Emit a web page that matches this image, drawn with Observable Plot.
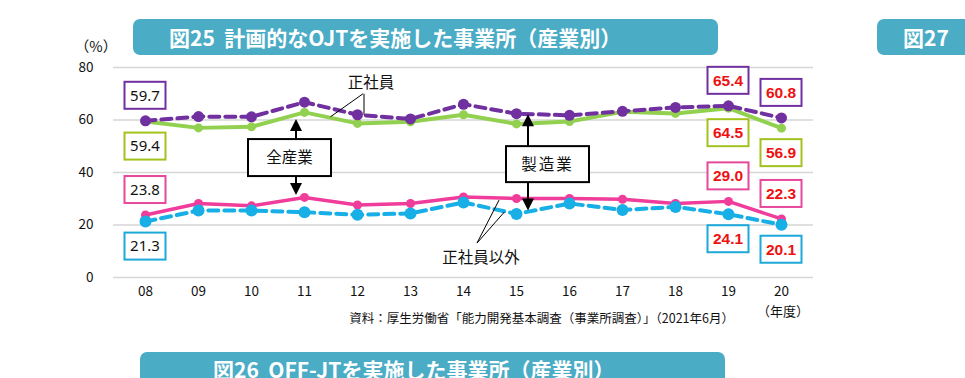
<!DOCTYPE html>
<html><head><meta charset="utf-8">
<script src="https://cdn.jsdelivr.net/npm/d3@7"></script>
<script src="https://cdn.jsdelivr.net/npm/@observablehq/plot@0.6"></script>
<style>
body{margin:0;background:#fff;font-family:"Noto Sans CJK JP","Noto Sans",sans-serif;}
#wrap{position:relative;width:965px;height:378px;overflow:hidden;}
#chart{position:absolute;left:0;top:0;}
.banner{position:absolute;background:#4bacc6;color:#fff;font-weight:bold;font-size:21px;border-radius:7px;height:36px;line-height:36px;white-space:pre;box-sizing:border-box;font-family:"Noto Sans CJK JP",sans-serif;}
</style></head><body>
<div id="wrap">
  <div id="chart"></div>
  <div class="banner" style="left:133px;top:19px;width:585px;padding-left:36px;">図25  計画的なOJTを実施した事業所（産業別）</div>
  <div class="banner" style="left:877px;top:19px;width:120px;padding-left:26px;">図27</div>
  <div class="banner" style="left:140px;top:352px;width:585px;padding-left:73px;line-height:34px;">図26  OFF-JTを実施した事業所（産業別）</div>
</div>
<script>
// ---- data ----
const years = ["08","09","10","11","12","13","14","15","16","17","18","19","20"];
const mfgRegular    = [59.7, 61.3, 61.2, 66.8, 62.0, 60.4, 66.0, 62.4, 61.8, 63.3, 64.8, 65.4, 60.8]; // 製造業 正社員
const allRegular    = [59.4, 57.0, 57.4, 62.9, 58.7, 59.3, 62.0, 58.5, 59.4, 63.1, 62.5, 64.5, 56.9]; // 全産業 正社員
const allNonRegular = [23.8, 28.2, 27.3, 30.5, 27.6, 28.2, 30.7, 30.1, 30.1, 29.8, 28.2, 29.0, 22.3]; // 全産業 正社員以外
const mfgNonRegular = [21.3, 25.5, 25.5, 24.9, 23.9, 24.4, 28.6, 24.2, 28.2, 25.7, 26.9, 24.1, 20.1]; // 製造業 正社員以外
const yTicks = [0, 20, 40, 60, 80];
const labelYears = ["08", "19", "20"];

// ---- series styling ----
const series = [
  {name: "全産業・正社員",     values: allRegular,    stroke: "#92d050", box: "#a2c21e", width: 4,   dash: null,   r: 4.5, side: 1},
  {name: "全産業・正社員以外", values: allNonRegular, stroke: "#f03c9a", box: "#e6489c", width: 3.5, dash: null,   r: 4.5, side: -1},
  {name: "製造業・正社員",     values: mfgRegular,    stroke: "#7030a0", box: "#7030a0", width: 4,   dash: "10,6", r: 5.5, side: -1},
  {name: "製造業・正社員以外", values: mfgNonRegular, stroke: "#18aee6", box: "#1ca8d8", width: 4,   dash: "10,6", r: 6,   side: 1}
];
const rows = series.flatMap(s => years.map((y, i) => ({year: y, series: s.name, value: s.values[i]})));

const FONT = '"Noto Sans CJK JP","Noto Sans",sans-serif';

function valueBoxes(index, scales) {
  const X = scales.x, Y = scales.y;
  const g = d3.create("svg:g");
  for (const s of series) {
    for (const yr of labelYears) {
      const v = s.values[years.indexOf(yr)];
      const cx = X(yr), cy = Y(v) + s.side * 25;
      const right = yr !== "08";
      g.append("rect").attr("x", cx - 20.5).attr("y", cy - 13.5).attr("width", 41).attr("height", 27)
        .attr("fill", "#fff").attr("stroke", s.box).attr("stroke-width", 2);
      g.append("text").attr("x", cx).attr("y", cy).attr("dy", "0.36em").attr("text-anchor", "middle")
        .attr("font-family", right ? '"Liberation Sans","Noto Sans",sans-serif' : '"Noto Sans",sans-serif')
        .attr("font-size", right ? 15.5 : 15).attr("font-weight", right ? "bold" : "normal")
        .attr("fill", right ? "#ee1111" : "#111").text(v.toFixed(1));
    }
  }
  return g.node();
}

function arrow(g, x, y1, y2) {
  const dir = Math.sign(y2 - y1);
  g.append("line").attr("x1", x).attr("x2", x).attr("y1", y1).attr("y2", y2 - dir * 10)
    .attr("stroke", "#000").attr("stroke-width", 2);
  g.append("path").attr("d", `M${x - 6},${y2 - dir * 12}L${x + 6},${y2 - dir * 12}L${x},${y2}Z`).attr("fill", "#000");
}

function annotations(index, scales, values, dims) {
  const X = scales.x, Y = scales.y;
  const step = X("09") - X("08");
  const g = d3.create("svg:g").attr("font-family", FONT).attr("fill", "#111");
  const idx = y => years.indexOf(y);

  g.append("text").attr("x", dims.marginLeft - 17).attr("y", Y(80) - 20).attr("dy", "0.36em")
    .attr("text-anchor", "middle").attr("font-size", 14.5).text("（%）");
  g.append("text").attr("x", X("20") + 2).attr("y", Y(0) + 34).attr("dy", "0.36em")
    .attr("text-anchor", "middle").attr("font-size", 13).text("（年度）");
  g.append("text").attr("x", X("19") + 6).attr("y", Y(0) + 41).attr("dy", "0.36em")
    .attr("text-anchor", "end").attr("font-size", 12.5)
    .text("資料：厚生労働省「能力開発基本調査（事業所調査）」（2021年6月）");

  // 全産業 box + arrows
  const ax = X("11") - 8;
  const b1y1 = Y(45.5) - 18.5, b1y2 = Y(45.5) + 18.5;
  arrow(g, ax, b1y1, Y(allRegular[idx("11")]) + 7);
  arrow(g, ax, b1y2, Y(allNonRegular[idx("11")]) - 2);
  g.append("rect").attr("x", ax - 48).attr("y", b1y1).attr("width", 83).attr("height", 37)
    .attr("fill", "#fff").attr("stroke", "#000").attr("stroke-width", 2);
  g.append("text").attr("x", ax - 6.5).attr("y", Y(45.5)).attr("dy", "0.36em").attr("text-anchor", "middle")
    .attr("font-size", 15.5).text("全産業");

  // 製造業 box + arrows
  const mx = X("15") + 12;
  const b2y1 = Y(43) - 18, b2y2 = Y(43) + 18;
  arrow(g, mx, b2y1, Y(mfgRegular[idx("15")]) + 1);
  arrow(g, mx, b2y2, Y(mfgNonRegular[idx("15")]) - 3);
  g.append("rect").attr("x", mx - 22).attr("y", b2y1).attr("width", 83).attr("height", 36)
    .attr("fill", "#fff").attr("stroke", "#000").attr("stroke-width", 2);
  g.append("text").attr("x", mx + 19.5).attr("y", Y(43)).attr("dy", "0.36em").attr("text-anchor", "middle")
    .attr("font-size", 15.5).attr("letter-spacing", "2px").text("製造業");

  // 正社員 label with leaders
  const tx = X("12") + 14, ty = Y(74);
  g.append("text").attr("x", tx).attr("y", ty).attr("dy", "0.36em").attr("text-anchor", "middle")
    .attr("font-size", 15.5).text("正社員");
  const lg = g.append("g").attr("stroke", "#000").attr("stroke-width", 1);
  lg.append("line").attr("x1", tx - 8).attr("y1", ty + 11).attr("x2", X("11") + step * 0.5).attr("y2", ty + 34);
  lg.append("line").attr("x1", tx - 7).attr("y1", ty + 11).attr("x2", tx - 7).attr("y2", ty + 32);

  // 正社員以外 label with leaders
  const ux = X("14") + 18, uy = Y(7.6);
  g.append("text").attr("x", ux).attr("y", uy).attr("dy", "0.36em").attr("text-anchor", "middle")
    .attr("font-size", 15.5).text("正社員以外");
  lg.append("line").attr("x1", ux - 4).attr("y1", uy - 14).attr("x2", X("14") + step * 0.68).attr("y2", uy - 57);
  lg.append("line").attr("x1", ux - 4).attr("y1", uy - 14).attr("x2", X("14") + step * 0.78).attr("y2", uy - 45);
  return g.node();
}

const marks = [Plot.ruleY(yTicks, {stroke: "#d6d6d6", strokeWidth: 1.5})];
for (const s of series) {
  const data = rows.filter(d => d.series === s.name);
  marks.push(Plot.line(data, {x: "year", y: "value", stroke: s.stroke, strokeWidth: s.width, strokeDasharray: s.dash, curve: "linear"}));
  marks.push(Plot.dot(data, {x: "year", y: "value", fill: s.stroke, r: s.r}));
}
marks.push(annotations, valueBoxes);

const chart = Plot.plot({
  width: 965, height: 378,
  marginLeft: 113, marginRight: 152, marginTop: 67, marginBottom: 101,
  style: {fontFamily: FONT, fontSize: "13.5px", color: "#111", background: "transparent"},
  x: {type: "point", domain: years, padding: 0.5, tickSize: 0, tickPadding: 9, label: null},
  y: {domain: [0, 80], ticks: yTicks, tickSize: 0, tickPadding: 20, label: null},
  marks
});
document.getElementById("chart").appendChild(chart);
</script>
</body></html>
